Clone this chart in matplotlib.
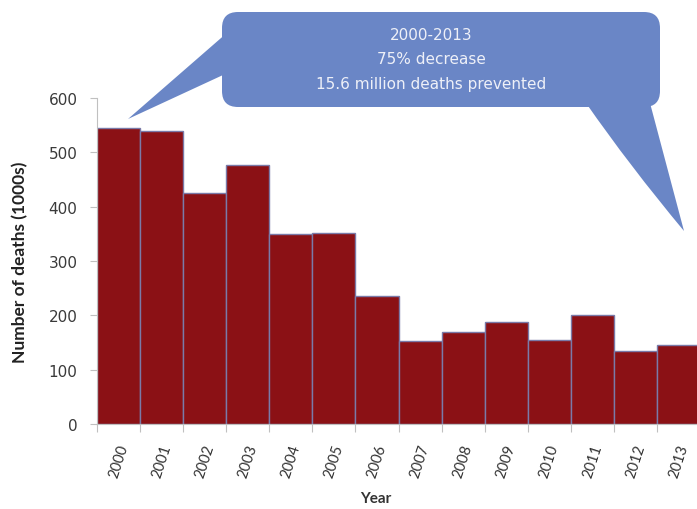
import numpy as np
import matplotlib.pyplot as plt
from matplotlib.patches import FancyBboxPatch, PathPatch
from matplotlib.path import Path
from matplotlib.transforms import Affine2D

# deaths per year, in thousands
years = ["2000", "2001", "2002", "2003", "2004", "2005", "2006",
         "2007", "2008", "2009", "2010", "2011", "2012", "2013"]
deaths = [545, 539, 425, 477, 349, 352, 235, 152, 169, 187, 154, 200, 134, 145]
yticks = [0, 100, 200, 300, 400, 500, 600]
callout_lines = ["2000-2013", "75% decrease", "15.6 million deaths prevented"]

plt.rcParams["font.family"] = ["Lato", "DejaVu Sans"]

W, H = 697, 510
fig = plt.figure(figsize=(W / 100, H / 100), dpi=100)
ax = fig.add_axes([97 / W, 85 / H, 603 / W, 326 / H])

x = np.arange(len(years))
ax.bar(x, deaths, width=1.0, color="#8b1115", edgecolor="#7a7aa8", linewidth=1.0)

ax.set_xlim(-0.5, len(years) - 0.5)
ax.set_ylim(0, 600)
ax.set_yticks(yticks)
ax.set_yticklabels([str(v) for v in yticks], fontsize=11, color="#3a3a3a",
                   family="DejaVu Sans")

# tick marks on bar boundaries, labels under bar centres
ax.set_xticks(np.arange(len(years) + 1) - 0.5)
ax.set_xticklabels([])
ax.set_xticks(x, minor=True)
ax.set_xticklabels(years, minor=True, rotation=72, fontsize=10.5, color="#333333")
ax.tick_params(axis="x", which="major", length=6, color="#c0c0c0")
ax.tick_params(axis="x", which="minor", length=0, pad=13)
ax.tick_params(axis="y", length=5, color="#c0c0c0", pad=9)

for side in ["top", "right"]:
    ax.spines[side].set_visible(False)
for side in ["left", "bottom"]:
    ax.spines[side].set_color("#c0c0c0")

ax.set_ylabel("Number of deaths (1000s)", fontsize=12.5, fontweight="bold", color="#222222")
ax.yaxis.label.set_va("center")
ax.yaxis.set_label_coords((20 - 97) / 603, 0.5)
ax.set_xlabel("Year", fontsize=11, fontweight="bold", color="#333333")
ax.xaxis.label.set_va("center")
ax.xaxis.set_label_coords((376 - 97) / 603, (425 - 499) / 326)

# speech bubble, laid out in pixel units from the top-left corner
px = Affine2D().scale(1 / W, -1 / H).translate(0, 1) + fig.transFigure
bubble_color = "#6a86c6"
box = FancyBboxPatch((222, 13), 438, 95, boxstyle="round,pad=0,rounding_size=16",
                     transform=px, facecolor=bubble_color, edgecolor="none")
fig.patches.append(box)

left_tail = Path([(236, 26), (128, 120), (236, 70), (236, 26)],
                 [Path.MOVETO, Path.LINETO, Path.LINETO, Path.CLOSEPOLY])
right_tail = Path([(586, 104), (629, 166), (684, 232), (650, 104), (586, 104)],
                  [Path.MOVETO, Path.CURVE3, Path.CURVE3, Path.LINETO, Path.CLOSEPOLY])
for tail in [left_tail, right_tail]:
    fig.patches.append(PathPatch(tail, transform=px, facecolor=bubble_color,
                                 edgecolor="none"))

for i, line in enumerate(callout_lines):
    fig.text(431 / W, 1 - (35 + 25 * i) / H, line, transform=fig.transFigure,
             ha="center", va="center", fontsize=11, color="#eef0f8",
             family="DejaVu Sans")

plt.savefig("out.png", dpi=100)
plt.close()
